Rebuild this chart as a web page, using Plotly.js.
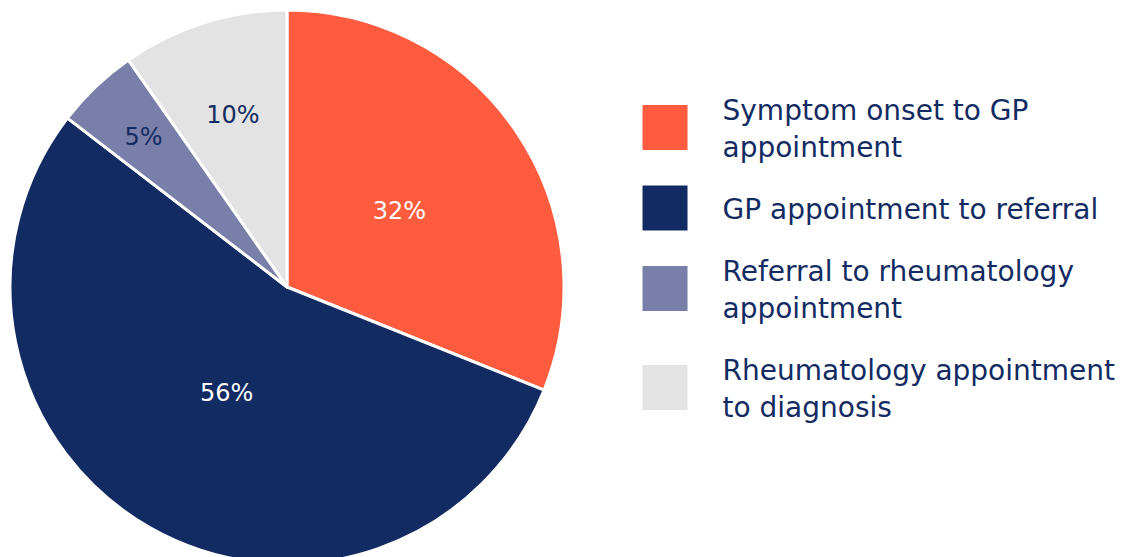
<!DOCTYPE html>
<html>
<head>
<meta charset="utf-8">
<script src="https://cdn.plot.ly/plotly-3.0.1.min.js"></script>
<style>
html, body { margin: 0; padding: 0; overflow: hidden; background: #fff; }
#chart { width: 1124px; height: 574px; }
</style>
</head>
<body>
<div id="chart"></div>
<script>
const categories = [
  "Symptom onset to GP<br>appointment",
  "GP appointment to referral",
  "Referral to rheumatology<br>appointment",
  "Rheumatology appointment<br>to diagnosis"
];
const shares = [32, 56, 5, 10];
const sliceColors = ["#FF5C3F", "#122B62", "#7A7FA9", "#E3E3E3"];
const labelColors = ["#FFFFFF", "#FFFFFF", "#122B62", "#122B62"];
// radial placement of the percentage labels, as a fraction of the pie radius
const labelRadius = [0.49, 0.44, 0.75, 0.65];

const FONT = "'DejaVu Sans', Inter, sans-serif";
const NAVY = "#122B62";

const trace = {
  type: "pie",
  labels: categories,
  values: shares,
  sort: false,
  direction: "clockwise",
  rotation: 0,
  marker: { colors: sliceColors, line: { color: "#FFFFFF", width: 3 } },
  texttemplate: "%{value}%",
  textposition: "inside",
  insidetextorientation: "horizontal",
  insidetextfont: { family: FONT, size: 24, color: labelColors },
  hoverinfo: "label+value",
  domain: { x: [0, 554 / 1114], y: [0, 1] }
};

const layout = {
  width: 1124,
  height: 574,
  margin: { l: 10, r: 0, t: 10, b: 10 },
  paper_bgcolor: "#FFFFFF",
  showlegend: true,
  legend: {
    x: 0.5678,
    xanchor: "left",
    y: 0.5,
    yanchor: "middle",
    font: { family: FONT, size: 28, color: NAVY },
    itemwidth: 70,
    valign: "middle",
    bgcolor: "rgba(0,0,0,0)"
  },
  font: { family: FONT, color: NAVY }
};

Plotly.newPlot("chart", [trace], layout, { displayModeBar: false, staticPlot: true }).then(function (gd) {
  // no clipping of the legend box
  gd.querySelectorAll(".legend, .legend *").forEach(function (el) {
    el.removeAttribute("clip-path");
  });
  // larger legend swatches without outline
  gd.querySelectorAll(".legend .legendpoints path").forEach(function (p) {
    p.setAttribute("transform", "translate(22.5,0) scale(3.75)");
    p.style.strokeWidth = "0";
  });
  // extra gap between legend entries
  const EXTRA_GAP = 23, SHIFT = -64;
  gd.querySelectorAll(".legend .traces").forEach(function (g, i) {
    const t = g.getAttribute("transform") || "";
    g.setAttribute("transform", "translate(0," + (SHIFT + i * EXTRA_GAP) + ") " + t);
  });
  // place percentage labels along each slice bisector
  const cd = gd.calcdata[0];
  const cx = cd[0].cx, cy = cd[0].cy, r = cd[0].r;
  const total = shares.reduce(function (a, b) { return a + b; }, 0);
  const svgRect = gd.querySelector(".main-svg").getBoundingClientRect();
  let acc = 0;
  gd.querySelectorAll("g.slice").forEach(function (s, i) {
    const mid = (acc + shares[i] / 2) / total * 2 * Math.PI;
    acc += shares[i];
    const tx = s.querySelector("text.slicetext");
    if (!tx) return;
    const b = tx.getBoundingClientRect();
    const curX = b.left + b.width / 2 - svgRect.left;
    const curY = b.top + b.height / 2 - svgRect.top;
    const wantX = cx + Math.sin(mid) * labelRadius[i] * r;
    const wantY = cy - Math.cos(mid) * labelRadius[i] * r;
    const t = tx.getAttribute("transform") || "";
    tx.setAttribute("transform", "translate(" + (wantX - curX) + "," + (wantY - curY) + ") " + t);
  });
});
</script>
</body>
</html>
